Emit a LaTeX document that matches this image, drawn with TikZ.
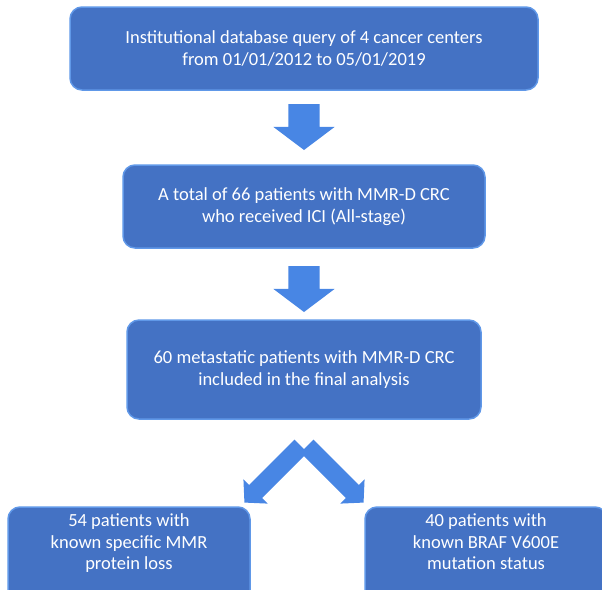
\documentclass[tikz,border=0pt]{standalone}
\usepackage{fontspec}
\setmainfont{Carlito}
\usetikzlibrary{positioning,shapes.arrows,calc}
\definecolor{boxBlue}{RGB}{68,114,196}
\definecolor{rimBlue}{RGB}{96,152,232}
\definecolor{arrBlue}{RGB}{72,134,228}

\begin{document}
\begin{tikzpicture}[
    x=1pt, y=-1pt,
    stagebox/.style={rectangle, rounded corners=12pt, draw=rimBlue,
                     line width=1.5pt, fill=boxBlue, text=white,
                     align=center, inner sep=7pt, outer sep=0pt,
                     font=\fontsize{18.5}{21.5}\selectfont},
    downarr/.style ={single arrow, fill=arrBlue, rotate=-90, anchor=west,
                     minimum height=46pt, inner xsep=0pt, inner ysep=15.5pt,
                     single arrow head extend=15pt, single arrow tip angle=106,
                     outer sep=0pt},
    splitarr/.style={single arrow, fill=arrBlue,
                     minimum height=80pt, inner xsep=0pt, inner ysep=9pt,
                     single arrow head extend=8pt, single arrow tip angle=95,
                     outer sep=0pt}
]
\useasboundingbox (0,0) rectangle (602,589);
\clip (0,0) rectangle (602,589);

\node[stagebox, minimum width=468pt, minimum height=83pt] (query) at (304,48.5)
    {Institutional database query of 4 cancer centers\\from 01/01/2012 to 05/01/2019};
\node[below=14pt of query, downarr] (arrA) {};
\node[stagebox, minimum width=362pt, minimum height=83pt, below=15pt of arrA.east] (total)
    {A total of 66 patients with MMR-D CRC\\who received ICI (All-stage)};
\node[below=18pt of total, downarr] (arrB) {};
\node[stagebox, minimum width=354pt, minimum height=99pt, below=8pt of arrB.east] (final)
    {60 metastatic patients with MMR-D CRC\\included in the final analysis};

% fork below the final analysis box
\coordinate[below=24pt of final] (fork);
\node[splitarr, rotate=-135] (arrL) at ($(fork)+(-28.3,28.3)$) {};
\node[splitarr, rotate=-45]  (arrR) at ($(fork)+(28.3,28.3)$) {};

\node[stagebox, minimum width=242pt, text depth=40pt, anchor=north] (mmr) at (129,507)
    {54 patients with\\known specific MMR\\protein loss};
\node[stagebox, minimum width=242pt, text depth=40pt, anchor=north] (braf) at (486,507)
    {40 patients with\\known BRAF V600E\\mutation status};
\end{tikzpicture}
\end{document}
